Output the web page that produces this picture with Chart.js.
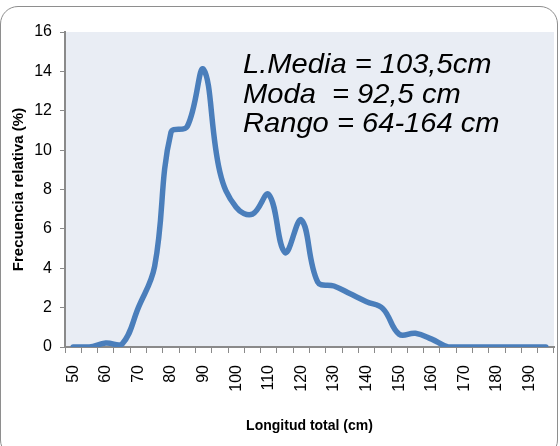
<!DOCTYPE html>
<html>
<head>
<meta charset="utf-8">
<script src="https://cdn.jsdelivr.net/npm/chart.js@4.4.1/dist/chart.umd.min.js"></script>
<style>
  html, body { margin: 0; padding: 0; background: #ffffff; }
  #wrap { position: relative; width: 560px; height: 446px; overflow: hidden; }
  #frame { position: absolute; left: 0px; top: 6px; width: 558px; height: 452px;
           border: 1.5px solid #8e8e8e; border-radius: 18px; box-sizing: border-box; }
  canvas { position: absolute; left: 0; top: 0; }
</style>
</head>
<body>
<div id="wrap">
  <div id="frame"></div>
  <canvas id="c" width="560" height="446"></canvas>
</div>
<script>
// Categories: class marks of total length (cm), 5 cm classes
const categories = [50,55,60,65,70,75,80,85,90,95,100,105,110,115,120,125,130,135,140,145,150,155,160,165,170,175,180,185,190,195];
// Relative frequency (%)
const frecuencia = [0,0,0.2,0.15,2.0,4.1,10.9,11.2,14.1,8.9,7.1,6.75,7.75,4.8,6.45,3.3,3.1,2.7,2.3,1.95,0.65,0.7,0.4,0,0,0,0,0,0,0];
// Tick labels shown on the x axis (every 10 cm)
const xTickLabels = ['50','60','70','80','90','100','110','120','130','140','150','160','170','180','190'];
const yTicks = [0,2,4,6,8,10,12,14,16];
const annotationLines = ['L.Media = 103,5cm', 'Moda  = 92,5 cm', 'Rango = 64-164 cm'];

const axisGray = '#8a8a8a';

const bgPlugin = {
  id: 'plotBg',
  beforeDraw(chart) {
    const {ctx, chartArea: a} = chart;
    ctx.save();
    ctx.fillStyle = 'rgb(233,237,244)';
    ctx.fillRect(a.left, a.top, a.right - a.left, a.bottom - a.top);
    ctx.restore();
  }
};

const textPlugin = {
  id: 'annot',
  afterDraw(chart) {
    const ctx = chart.ctx;
    ctx.save();
    ctx.fillStyle = '#000';
    ctx.font = 'italic 28px "Liberation Sans", Arial, sans-serif';
    ctx.textBaseline = 'alphabetic';
    ctx.textAlign = 'left';
    const baselines = [73, 103, 132];
    ctx.translate(243, 0);
    ctx.scale(1.04, 1);
    annotationLines.forEach((t, i) => ctx.fillText(t, 0, baselines[i]));
    ctx.restore();
  }
};

new Chart(document.getElementById('c'), {
  type: 'line',
  data: {
    labels: categories,
    datasets: [{
      data: frecuencia,
      borderColor: 'rgb(74,126,187)',
      borderWidth: 5.5,
      pointRadius: 0,
      tension: 0.4,
      fill: false,
      borderCapStyle: 'round',
      borderJoinStyle: 'round'
    }]
  },
  options: {
    responsive: false,
    animation: false,
    devicePixelRatio: 1,
    layout: { padding: { top: 32, right: 6, left: 0, bottom: 0 } },
    plugins: { legend: { display: false }, tooltip: { enabled: false } },
    scales: {
      x: {
        type: 'category',
        offset: true,
        grid: { offset: true, drawOnChartArea: false, drawTicks: true, tickLength: 6, color: axisGray, lineWidth: 1 },
        border: { color: axisGray, width: 2 },
        ticks: {
          autoSkip: false,
          maxRotation: 90, minRotation: 90,
          padding: 12,
          color: '#000',
          font: { family: '"Liberation Sans", Arial, sans-serif', size: 16 },
          callback: function(value, index) {
            const lab = String(categories[index]);
            return xTickLabels.includes(lab) ? lab : '';
          }
        },
        title: {
          display: true,
          text: 'Longitud total (cm)',
          color: '#000',
          font: { family: '"Liberation Sans Narrow", "Liberation Sans", Arial, sans-serif', size: 14, weight: 'bold' },
          padding: { top: 0, bottom: 11 }
        },
        afterFit(scale) { scale.height = 99; scale.paddingLeft = 0; scale.paddingRight = 0; }
      },
      y: {
        min: 0, max: 16,
        afterBuildTicks(scale) { scale.ticks = yTicks.map(v => ({ value: v })); },
        grid: { drawOnChartArea: false, drawTicks: true, tickLength: 5, color: axisGray, lineWidth: 1 },
        border: { color: axisGray, width: 2 },
        ticks: {
          padding: 8,
          color: '#000',
          font: { family: '"Liberation Sans", Arial, sans-serif', size: 16 }
        },
        title: {
          display: true,
          text: 'Frecuencia relativa (%)',
          color: '#000',
          font: { family: '"Liberation Sans", Arial, sans-serif', size: 15, weight: 'bold' },
          padding: { top: 10, bottom: 0 }
        },
        afterFit(scale) { scale.width = 65; scale.paddingTop = 0; scale.paddingBottom = 0; }
      }
    }
  },
  plugins: [bgPlugin, textPlugin]
});
</script>
</body>
</html>
